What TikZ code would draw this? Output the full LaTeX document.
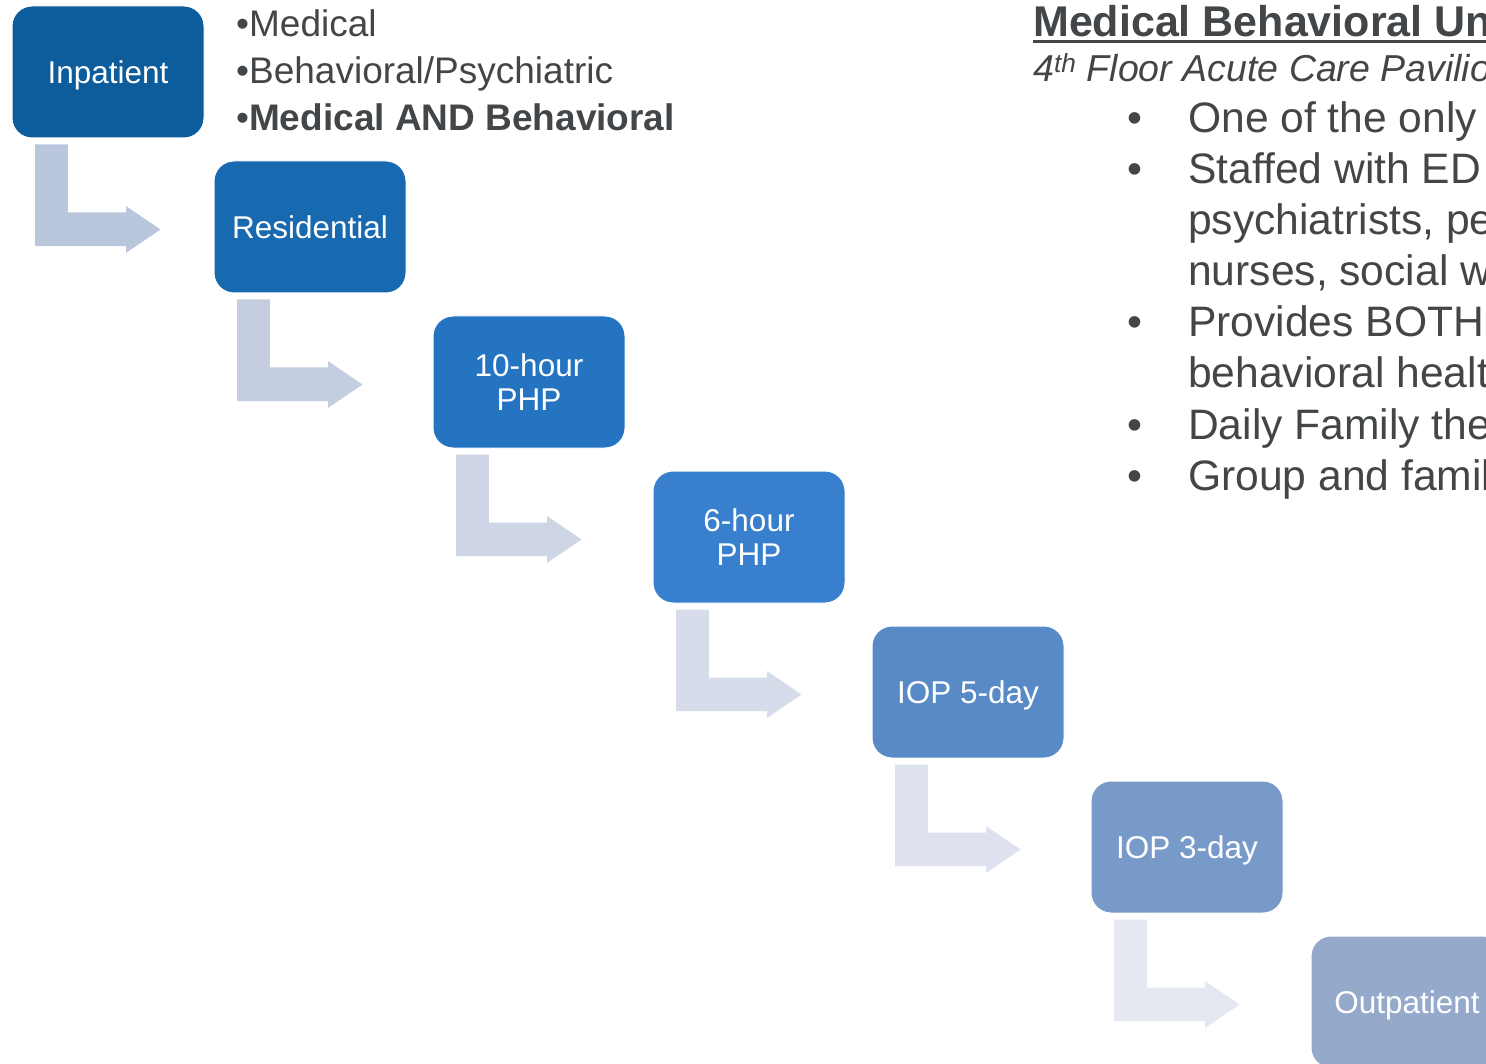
\documentclass[tikz,border=0pt]{standalone}
\usepackage{fontspec}
\setmainfont{Liberation Sans}
\usetikzlibrary{calc}

% box fills, dark to light
\definecolor{boxA}{HTML}{0D5C9B}
\definecolor{boxB}{HTML}{1769B0}
\definecolor{boxC}{HTML}{2474C2}
\definecolor{boxD}{HTML}{3880CD}
\definecolor{boxE}{HTML}{588AC8}
\definecolor{boxF}{HTML}{789AC8}
\definecolor{boxG}{HTML}{95A9CA}
% bent arrows, dark to light
\definecolor{arrA}{HTML}{BAC6DB}
\definecolor{arrB}{HTML}{C5CEE0}
\definecolor{arrC}{HTML}{CED5E5}
\definecolor{arrD}{HTML}{D6DCE9}
\definecolor{arrE}{HTML}{DDE2EE}
\definecolor{arrF}{HTML}{E5E8F1}
\definecolor{txtgray}{HTML}{434649}

\begin{document}
\begin{tikzpicture}[x=1pt,y=-1pt,
  stagebox/.style={rounded corners=20pt, draw=white, line width=1pt,
    minimum width=192pt, minimum height=132pt, inner sep=0pt,
    text=white, align=center, font=\fontsize{31.5}{34}\selectfont},
  oneline/.style={text height=22.5pt, text depth=0pt},
  listline/.style={anchor=base west, inner sep=0pt, text=txtgray,
    font=\fontsize{37}{44}\selectfont},
  rightline/.style={anchor=base west, inner sep=0pt, text=txtgray,
    font=\fontsize{42.6}{50}\selectfont},
  dotmark/.style={anchor=base west, inner sep=0pt, text=txtgray,
    font=\fontsize{42.6}{50}\selectfont}
]
\useasboundingbox (0,0) rectangle (1486,1064);
\clip (0,0) rectangle (1486,1064);
\fill[white] (0,0) rectangle (1486,1064);

% care levels
\node[stagebox, oneline, fill=boxA] (inp) at (108,72)   {Inpatient};
\node[stagebox, oneline, fill=boxB] (res) at (310,227)  {Residential};
\node[stagebox, fill=boxC]          (ten) at (529,382)  {10-hour\\PHP};
\node[stagebox, fill=boxD]          (six) at (749,537)  {6-hour\\PHP};
\node[stagebox, oneline, fill=boxE] (iopf) at (968,692) {IOP 5-day};
\node[stagebox, oneline, fill=boxF] (iopt) at (1187,847){IOP 3-day};
\node[stagebox, oneline, fill=boxG] (outp) at (1407,1002){Outpatient};

% bent step-down arrows, hanging below each box and pointing at the next
\foreach \a/\b/\c in {inp/res/arrA, res/ten/arrB, ten/six/arrC,
                      six/iopf/arrD, iopf/iopt/arrE, iopt/outp/arrF}{
  \fill[\c] ($(\a.south west)+(23.7,6)$) -- ($(\a.south west)+(56.3,6)$)
    -- ($(\a.south west)+(56.3,74)$) -- ($(\a.south west)+(114.7,74)$)
    -- ($(\a.south west)+(114.7,67.7)$)
    -- ($(\a.south west)+(149,91)!0!(\b.west)$)
    -- ($(\a.south west)+(114.7,114.3)$) -- ($(\a.south west)+(114.7,107.7)$)
    -- ($(\a.south west)+(23.7,107.7)$) -- cycle;
}

% inpatient types
\node[listline] (la) at (236,37)  {•Medical};
\node[listline] (lb) at (236,84)  {•Behavioral/Psychiatric};
\node[listline] (lc) at (236,131) {•\textbf{Medical AND Behavioral}};

% unit description
\node[anchor=base west, inner sep=0pt, text=txtgray,
  font=\fontsize{43}{50}\selectfont\bfseries] (title) at (1033,37)
  {Medical Behavioral Un};
\draw[txtgray, line width=3pt] ($(title.base west)+(0,4.5)$) -- ($(title.base east)+(0,4.5)$);
\node[anchor=base west, inner sep=0pt, text=txtgray,
  font=\fontsize{37.5}{44}\selectfont\itshape] (sub) at (1033,82)
  {4\textsuperscript{th} Floor Acute Care Pavilio};

\node[dotmark] (d1) at (1127,133) {•};
\node[rightline] (r1) at (1188,133) {One of the only};
\node[dotmark] (d2) at (1127,184) {•};
\node[rightline] (r2) at (1188,184) {Staffed with ED};
\node[rightline] (r3) at (1188,235) {psychiatrists, pe};
\node[rightline] (r4) at (1188,286) {nurses, social w};
\node[dotmark] (d3) at (1127,337) {•};
\node[rightline] (r5) at (1188,337) {Provides BOTH};
\node[rightline] (r6) at (1188,388) {behavioral healt};
\node[dotmark] (d4) at (1127,439) {•};
\node[rightline] (r7) at (1188,439) {Daily Family the};
\node[dotmark] (d5) at (1127,490) {•};
\node[rightline] (r8) at (1188,490) {Group and famil};
\end{tikzpicture}
\end{document}
